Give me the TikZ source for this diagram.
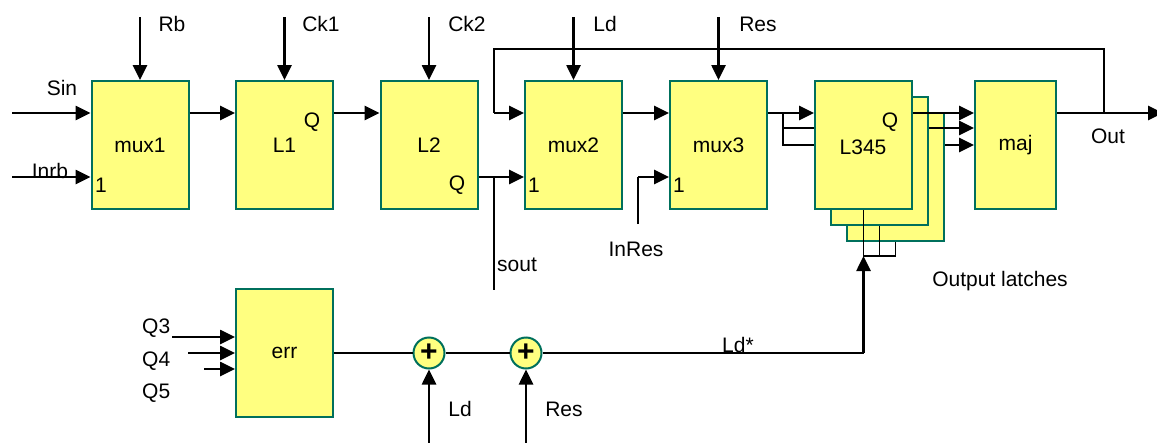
\documentclass[tikz,border=0pt]{standalone}
\usepackage{fontspec}
\setmainfont{Liberation Sans}
\usetikzlibrary{arrows.meta}
\definecolor{boxfill}{HTML}{FFFF80}
\definecolor{boxline}{HTML}{00705C}
\begin{document}
\begin{tikzpicture}[x=1pt,y=-1pt,
  every node/.style={font=\fontsize{21}{25}\selectfont, inner sep=0pt},
  blk/.style={draw=boxline, fill=boxfill, line width=2pt, minimum width=97pt, minimum height=128pt},
  sumnode/.style={circle, draw=boxline, fill=boxfill, line width=2pt, minimum size=31pt, font=\fontsize{30}{30}\selectfont\bfseries},
  arr/.style={line width=2.6pt, -{Triangle[length=15pt,width=14pt]}},
  wire/.style={line width=1.9pt},
  lbl/.style={anchor=center}]
\useasboundingbox (0,0) rectangle (1157,442);

% stacked latches behind
\node[blk] (L345c) at (895.5,177) {};
\node[blk] (L345b) at (879.5,161) {};

% input branch lines to hidden latches
\coordinate (br) at (783,113);
\draw[wire] (br) -- (783,145) -- (L345c.west |- 0,145);
\draw[wire] (783,128) -- (L345b.west |- 0,128);

% main blocks
\node[blk] (mux1) at (140,145) {mux1};
\node[blk] (L1) at (284.5,145) {L1};
\node[blk] (L2) at (429,145) {L2};
\node[blk] (mux2) at (573.5,145) {mux2};
\node[blk] (mux3) at (718.5,145) {mux3};
\node[blk] (L345) at (863.5,145) {};
\node[blk, minimum width=81pt] (maj) at (1015.5,145) {maj};
\node[blk] (err) at (284.5,353) {err};
\node at (863,147) (L345t) {L345};

% inner pin labels
\node (q1) at (312,122) {Q};
\node (q2) at (457,185) {Q};
\node (q345) at (890,122) {Q};
\node (one1) at (101,185) {1};
\node (one2) at (534,185) {1};
\node (one3) at (679,185) {1};

% top control inputs
\coordinate (rbT) at (140,17);
\coordinate (ck1T) at (284.5,17);
\coordinate (ck2T) at (429,17);
\coordinate (ldT) at (573.5,17);
\coordinate (resT) at (718.5,17);
\draw[arr] (rbT) -- (mux1.north);
\draw[arr] (ck1T) -- (L1.north);
\draw[arr] (ck2T) -- (L2.north);
\draw[arr] (ldT) -- (mux2.north);
\draw[arr] (resT) -- (mux3.north);
\node (Rb) at (172,24) {Rb};
\node (Ck1) at (321,24) {Ck1};
\node (Ck2) at (467,24) {Ck2};
\node (Ldtop) at (605,24) {Ld};
\node (Restop) at (758,24) {Res};

% left inputs
\coordinate (sinL) at (12,113);
\coordinate (inrbL) at (12,177);
\draw[arr] (sinL) -- (mux1.west |- sinL);
\draw[arr] (inrbL) -- (mux1.west |- inrbL);
\node (Sin) at (62,88) {Sin};
\node[anchor=base] (Inrb) at (50,178) {Inrb};

% chain
\draw[arr] (mux1.east |- 0,113) -- (L1.west |- 0,113);
\draw[arr] (L1.east |- 0,113) -- (L2.west |- 0,113);
\draw[arr] (L2.east |- 0,177) -- (mux2.west |- 0,177);
\draw[arr] (mux2.east |- 0,113) -- (mux3.west |- 0,113);
\draw[arr] (mux3.east |- 0,113) -- (L345.west |- 0,113);

% sout branch
\coordinate (soutB) at (494,290);
\draw[wire] (494,177) -- (soutB);
\node[anchor=west] (sout) at (497,265) {sout};

% InRes
\coordinate (inresB) at (638,224);
\draw[wire] (inresB) -- (638,177);
\draw[arr] (638,177) -- (mux3.west |- 0,177);
\node (InRes) at (636,249) {InRes};

% outputs of latches to maj
\draw[arr] (L345.east |- 0,113) -- (maj.west |- 0,113);
\draw[arr] (L345b.east |- 0,128) -- (maj.west |- 0,128);
\draw[arr] (L345c.east |- 0,145) -- (maj.west |- 0,145);

% Out and feedback
\coordinate (outR) at (1163,113);
\draw[arr] (maj.east |- 0,113) -- (outR);
\coordinate (fbA) at (1104,113);
\draw[wire] (fbA) -- (1104,49) -- (494,49) -- (494,113);
\draw[arr] (494,113) -- (mux2.west |- 0,113);
\node (Out) at (1108,136) {Out};

% bottom of latch stack
\coordinate (ldS) at (863.5,256);
\draw[wire] (L345.south) -- (ldS) -- (L345c.south |- ldS) -- (L345c.south);
\draw[wire] (L345b.south) -- (L345b.south |- ldS);
\node (OL) at (1000,281) {Output latches};

% err inputs
\coordinate (q3L) at (172,337);
\coordinate (q4L) at (188,353);
\coordinate (q5L) at (204,369);
\draw[arr] (q3L) -- (err.west |- q3L);
\draw[arr] (q4L) -- (err.west |- q4L);
\draw[arr] (q5L) -- (err.west |- q5L);
\node[anchor=west] (Q3) at (142,328) {Q3};
\node[anchor=west] (Q4) at (142,361) {Q4};
\node[anchor=west] (Q5) at (142,393) {Q5};

% sums
\node[sumnode] (s1) at (429,353) {+};
\node[sumnode] (s2) at (526,353) {+};
\draw[wire] (err.east) -- (s1);
\draw[wire] (s1) -- (s2);
\coordinate (ldc) at (863.5,353);
\draw[wire] (s2) -- (ldc);
\draw[arr] (ldc) -- (ldS);
\node[anchor=base] (Ldstar) at (738,352) {Ld*};
\coordinate (ldB) at (429,445);
\coordinate (resB) at (526,445);
\draw[arr] (ldB) -- (s1);
\draw[arr] (resB) -- (s2);
\node (Ldb) at (460,409) {Ld};
\node (Resb) at (564,409) {Res};
\end{tikzpicture}
\end{document}
